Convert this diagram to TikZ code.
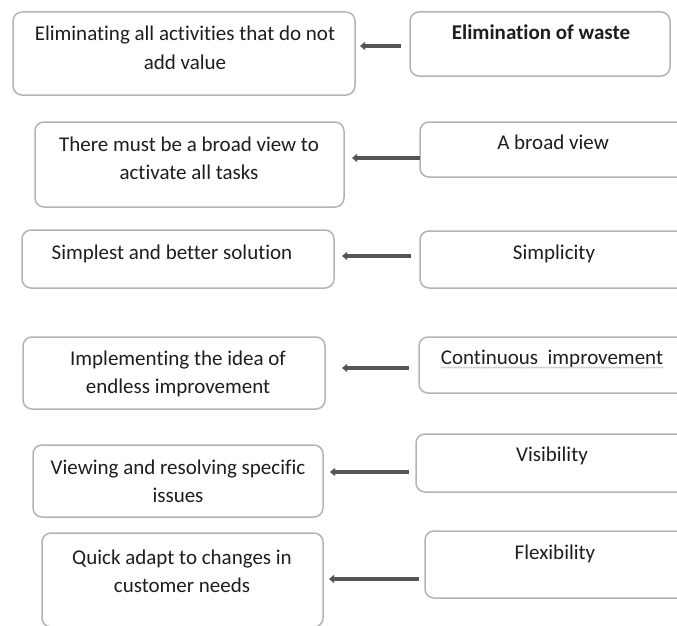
\documentclass[tikz,border=0pt]{standalone}
\usepackage{fontspec}
\setmainfont{Carlito}[Ligatures=NoCommon]
\usetikzlibrary{arrows.meta,decorations.pathmorphing}
\newcommand\twol[2]{\begin{tabular}[t]{@{}c@{}}#1\\#2\end{tabular}}
\definecolor{boxline}{HTML}{B4B4B4}
\definecolor{arrowc}{HTML}{555555}
\definecolor{txtc}{HTML}{1E1E1E}
\tikzset{
  box/.style={draw=boxline, line width=1.5pt, rounded corners=9pt, fill=none,
    inner sep=0pt, outer sep=0pt, anchor=north west},
  txt/.style={inner sep=0pt, text=txtc, anchor=base,
    font=\fontsize{21}{28.8}\selectfont},
  arr/.style={draw=arrowc, line width=4pt, -{Triangle[length=5pt,width=8pt]}},
  squig/.style={draw=gray!45, line width=0.6pt, decorate,
    decoration={snake, amplitude=0.7pt, segment length=2.5pt}}
}
\begin{document}
\begin{tikzpicture}[x=1pt,y=-1pt]
\useasboundingbox[fill=white] (0,0) rectangle (677,626);
% boxes
\node[box, minimum width=342pt, minimum height=83pt] (L1) at (13,12) {};
\node[box, minimum width=260pt, minimum height=64pt] (R1) at (410,12) {};
\node[box, minimum width=309pt, minimum height=85pt] (L2) at (35,122) {};
\node[box, minimum width=280pt, minimum height=55pt] (R2) at (420,122) {};
\node[box, minimum width=312pt, minimum height=58pt] (L3) at (22,230) {};
\node[box, minimum width=280pt, minimum height=57pt] (R3) at (420,231) {};
\node[box, minimum width=302pt, minimum height=72pt] (L4) at (23,337) {};
\node[box, minimum width=280pt, minimum height=56pt] (R4) at (419,337) {};
\node[box, minimum width=290pt, minimum height=72pt] (L5) at (33,445) {};
\node[box, minimum width=280pt, minimum height=58pt] (R5) at (416,434) {};
\node[box, minimum width=281pt, minimum height=94pt] (L6) at (42,533) {};
\node[box, minimum width=280pt, minimum height=67pt] (R6) at (425,531) {};
% texts
\node[txt] (tL1) at (185,41) {\twol{Eliminating all activities that do not}{add value}};
\node[txt] (tR1) at (541,40) {\bfseries Elimination of waste};
\node[txt] (tL2) at (189,151) {\twol{There must be a broad view to}{activate all tasks}};
\node[txt] (tR2) at (553,149) {A broad view};
\node[txt] (tL3) at (172,259) {Simplest and better solution};
\node[txt] (tR3) at (554,259) {Simplicity};
\node[txt] (tL4) at (178,365) {\twol{Implementing the idea of}{endless improvement}};
\node[txt] (tR4) at (552,364) {Continuous~~improvement};
\node[txt] (tL5) at (178,474) {\twol{Viewing and resolving specific}{issues}};
\node[txt] (tR5) at (552,461) {Visibility};
\node[txt] (tL6) at (182,564) {\twol{Quick adapt to changes in}{customer needs}};
\node[txt] (tR6) at (555,559) {Flexibility};
\draw[squig] ([yshift=-3.5pt]tR4.base west) -- ([yshift=-3.5pt]tR4.base east);
% arrows
\draw[arr, shorten <=9pt, shorten >=5pt] (R1.west |- 0,46) -- (L1.east |- 0,46);
\draw[arr, shorten <=0pt, shorten >=8pt] (R2.west |- 0,158) -- (L2.east |- 0,158);
\draw[arr, shorten <=9pt, shorten >=8pt] (R3.west |- 0,256) -- (L3.east |- 0,256);
\draw[arr, shorten <=10pt, shorten >=17pt] (R4.west |- 0,368) -- (L4.east |- 0,368);
\draw[arr, shorten <=7pt, shorten >=7pt] (R5.west |- 0,472) -- (L5.east |- 0,472);
\draw[arr, shorten <=6pt, shorten >=6pt] (R6.west |- 0,579) -- (L6.east |- 0,579);
\end{tikzpicture}
\end{document}
